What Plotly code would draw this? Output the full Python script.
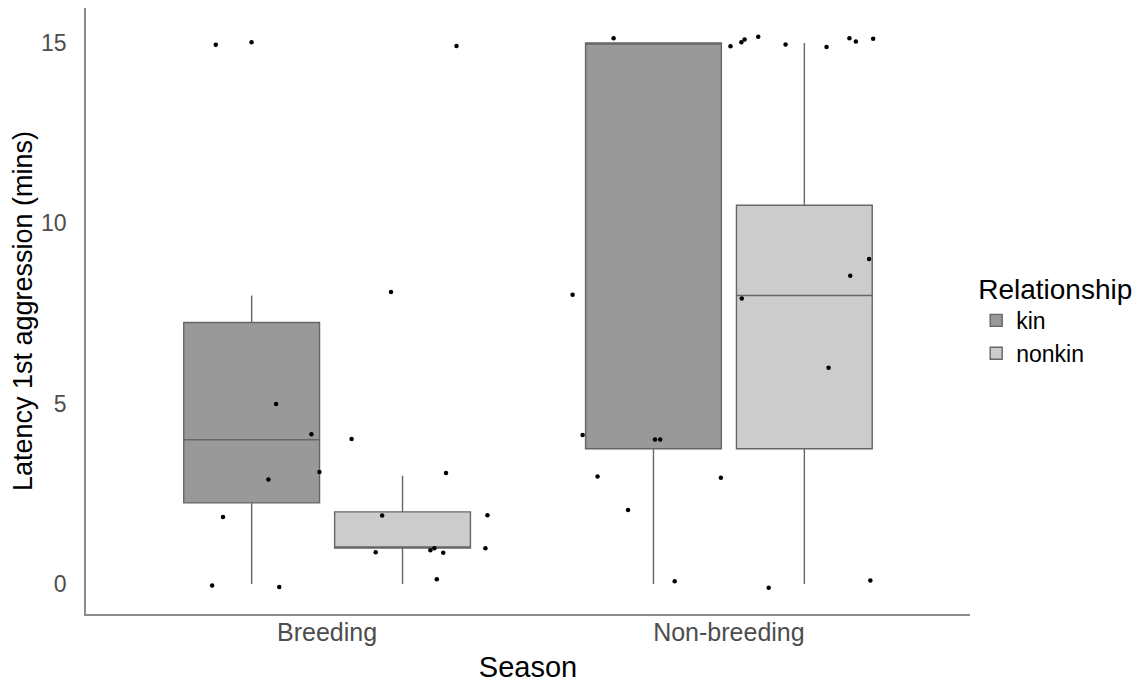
import plotly.graph_objects as go

# ---- data ----
seasons = ["Breeding", "Non-breeding"]
season_pos = [1, 2]

kin_q1 = [2.25, 3.75]
kin_median = [4.0, 15.0]
kin_q3 = [7.25, 15.0]
kin_low = [0.0, 0.0]
kin_high = [8.0, 15.0]

nonkin_q1 = [1.0, 3.75]
nonkin_median = [1.0, 8.0]
nonkin_q3 = [2.0, 10.5]
nonkin_low = [0.0, 0.0]
nonkin_high = [3.0, 15.0]

# jittered observations (value, horizontal jitter in category units)
breeding_values = [14.95, 15.02, 14.92, 8.10, 4.99, 4.15, 4.02, 3.11, 2.90, 3.08,
                   1.86, 1.90, 1.91, 0.88, 0.94, 0.99, 0.87, 0.99, 0.13, -0.04, -0.08]
breeding_jitter = [-0.277, -0.188, 0.322, 0.159, -0.127, -0.039, 0.061, -0.019, -0.146, 0.296,
                   -0.259, 0.137, 0.399, 0.121, 0.257, 0.267, 0.289, 0.394, 0.273, -0.286, -0.119]

nonbreeding_values = [15.13, 14.91, 15.02, 15.10, 15.17, 14.96, 14.89, 15.13, 15.04, 15.12,
                      8.02, 9.01, 8.55, 7.92, 6.00, 4.13, 4.01, 4.01, 2.98, 2.95,
                      2.05, 0.08, -0.10, 0.10]
nonbreeding_jitter = [-0.287, 0.004, 0.031, 0.039, 0.073, 0.141, 0.243, 0.300, 0.316, 0.359,
                      -0.389, 0.349, 0.302, 0.032, 0.248, -0.364, -0.184, -0.171, -0.327, -0.020,
                      -0.251, -0.135, 0.099, 0.352]

y_ticks = [0, 5, 10, 15]

# ---- figure ----
fig = go.Figure()
line_col = "#666666"

fig.add_trace(go.Box(
    name="kin", x=season_pos, q1=kin_q1, median=kin_median, q3=kin_q3,
    lowerfence=kin_low, upperfence=kin_high, boxpoints=False,
    fillcolor="#999999", line=dict(color=line_col, width=1.4), whiskerwidth=0,
))
fig.add_trace(go.Box(
    name="nonkin", x=season_pos, q1=nonkin_q1, median=nonkin_median, q3=nonkin_q3,
    lowerfence=nonkin_low, upperfence=nonkin_high, boxpoints=False,
    fillcolor="#cccccc", line=dict(color=line_col, width=1.4), whiskerwidth=0,
))

pt_x = [season_pos[0] + j for j in breeding_jitter] + [season_pos[1] + j for j in nonbreeding_jitter]
pt_y = breeding_values + nonbreeding_values
fig.add_trace(go.Scatter(
    x=pt_x, y=pt_y, mode="markers", showlegend=False,
    marker=dict(color="black", size=4.5), hoverinfo="y",
))

fig.update_layout(
    width=1129, height=675,
    margin=dict(l=78, r=167, t=0, b=69),
    paper_bgcolor="white", plot_bgcolor="white",
    boxmode="group", boxgap=0.249, boxgroupgap=0.1,
    font=dict(family="Liberation Sans, Arial, sans-serif", color="black"),
    legend=dict(
        title=dict(text="Relationship", font=dict(size=28)),
        font=dict(size=23), x=1.007, xanchor="left", y=0.58, yanchor="top",
        tracegroupgap=0, itemwidth=30,
    ),
    xaxis=dict(
        range=[0.4, 2.6], tickvals=season_pos, ticktext=seasons, automargin=False,
        showgrid=False, zeroline=False, showline=True, linecolor="#8c8c8c", linewidth=1.5,
        ticks="", ticklabelstandoff=-5,
        tickfont=dict(size=25, color="#4d4d4d"),
        title=dict(text="Season", font=dict(size=29), standoff=16),
    ),
    yaxis=dict(
        range=[-0.83, 15.97], tickvals=y_ticks, automargin=False,
        showgrid=False, zeroline=False, showline=True, linecolor="#8c8c8c", linewidth=1.5,
        ticks="outside", ticklen=13, tickcolor="rgba(0,0,0,0)",
        tickfont=dict(size=23, color="#4d4d4d"),
        title=dict(text="Latency 1st aggression (mins)", font=dict(size=27), standoff=6),
    ),
)

fig.write_html("out.html")
